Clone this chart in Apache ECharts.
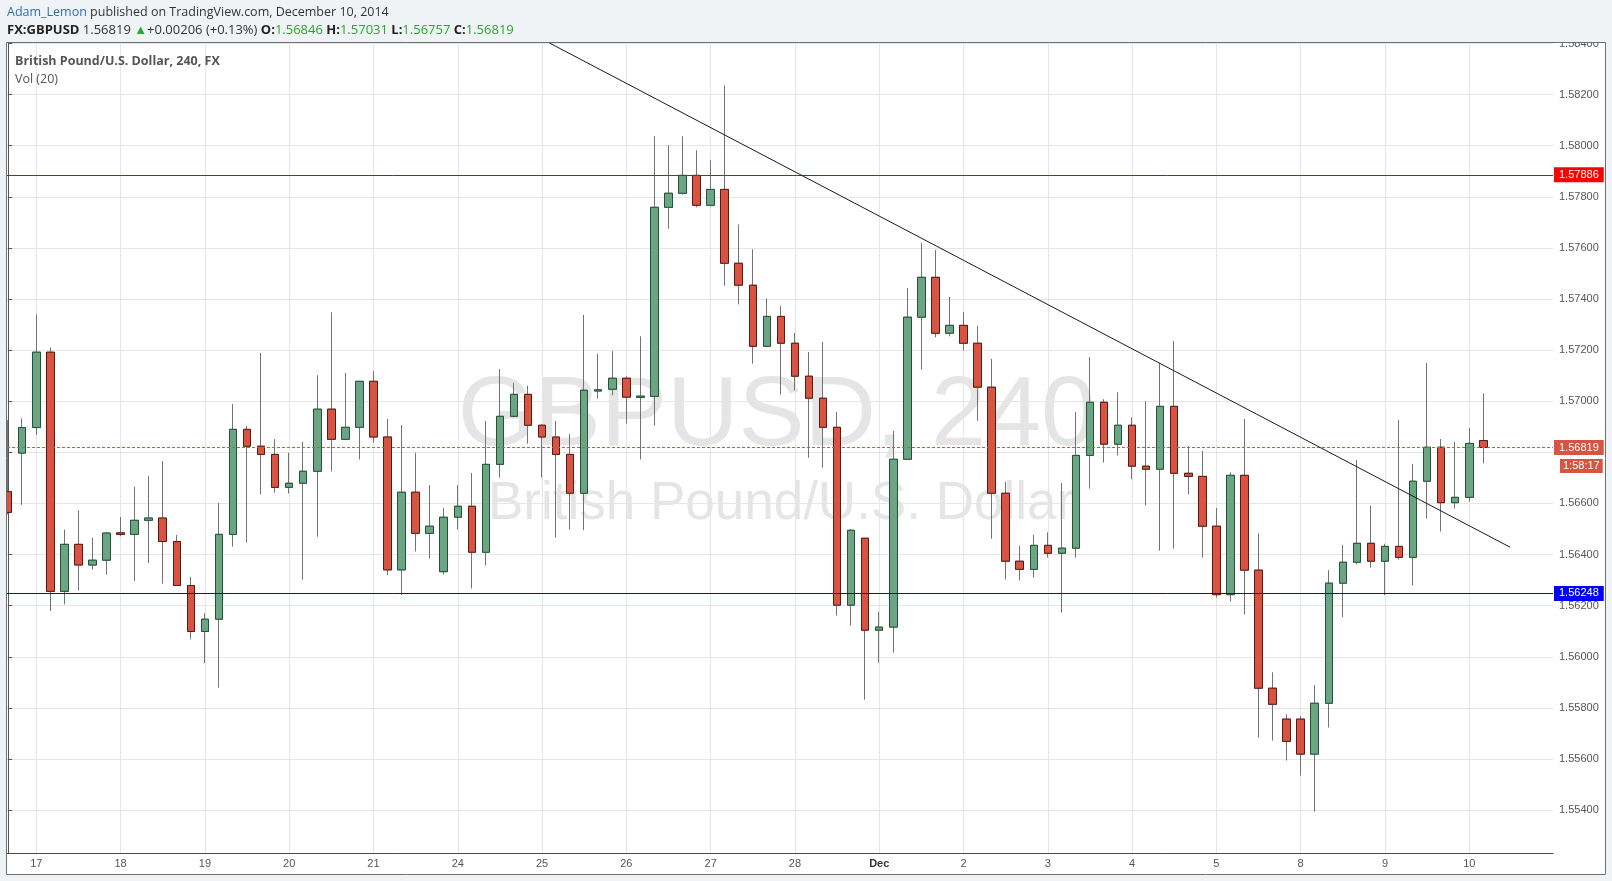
<!DOCTYPE html>
<html><head><meta charset="utf-8">
<script src="https://cdn.jsdelivr.net/npm/echarts@6/dist/echarts.min.js"></script>
<style>html,body{margin:0;padding:0;background:#f0f3f6;} #c{width:1612px;height:881px;}</style>
</head><body><div id="c"></div>
<script>
// ---- data (4h candles, GBPUSD) ----
const dayLabels = ['14','17','18','19','20','21','24','25','26','27','28','Dec','2','3','4','5','8','9','10'];
const candlesPerDay = [2,6,6,6,6,6,6,6,6,6,6,6,6,6,6,6,6,6,2];
const open = [1.56646,1.56797,1.56897,1.57192,1.56256,1.56440,1.56359,1.56378,1.56485,1.56479,
1.56534,1.56543,1.56451,1.56279,1.56099,1.56147,1.56479,1.56890,1.56824,1.56792,
1.56663,1.56679,1.56726,1.56969,1.56851,1.56898,1.57078,1.56860,1.56340,1.56644,
1.56483,1.56333,1.56546,1.56589,1.56409,1.56753,1.56941,1.57027,1.56906,1.56860,
1.56792,1.56640,1.57040,1.57047,1.57090,1.57015,1.57019,1.57759,1.57814,1.57884,
1.57767,1.57829,1.57540,1.57454,1.57215,1.57332,1.57227,1.57098,1.57012,1.56898,
1.56202,1.56464,1.56104,1.56116,1.56773,1.57329,1.57485,1.57266,1.57297,1.57227,
1.57055,1.56640,1.56374,1.56342,1.56436,1.56405,1.56425,1.56788,1.56996,1.56832,
1.56906,1.56746,1.56734,1.56980,1.56718,1.56706,1.56511,1.56243,1.56710,1.56339,
1.55877,1.55756,1.55756,1.55619,1.55818,1.56288,1.56370,1.56444,1.56374,1.56432,
1.56389,1.56687,1.56820,1.56603,1.56624,1.56846];
const close = [1.56565,1.56897,1.57192,1.56256,1.56440,1.56359,1.56378,1.56484,1.56479,1.56534,
1.56543,1.56451,1.56279,1.56099,1.56147,1.56479,1.56890,1.56824,1.56792,1.56663,
1.56679,1.56726,1.56969,1.56851,1.56898,1.57078,1.56860,1.56340,1.56644,1.56483,
1.56511,1.56546,1.56589,1.56409,1.56753,1.56941,1.57027,1.56906,1.56860,1.56792,
1.56640,1.57043,1.57045,1.57090,1.57016,1.57020,1.57759,1.57814,1.57884,1.57767,
1.57829,1.57540,1.57454,1.57215,1.57332,1.57227,1.57098,1.57012,1.56898,1.56202,
1.56495,1.56104,1.56116,1.56773,1.57329,1.57485,1.57266,1.57297,1.57227,1.57055,
1.56640,1.56374,1.56342,1.56436,1.56405,1.56425,1.56788,1.56996,1.56832,1.56906,
1.56746,1.56734,1.56980,1.56718,1.56706,1.56511,1.56243,1.56710,1.56339,1.55877,
1.55814,1.55669,1.55619,1.55818,1.56288,1.56370,1.56444,1.56374,1.56432,1.56389,
1.56687,1.56820,1.56603,1.56624,1.56835,1.56819];
const low = [1.56557,1.56594,1.56868,1.56179,1.56205,1.56260,1.56341,1.56321,1.56472,1.56297,
1.56367,1.56286,1.56279,1.56068,1.55975,1.55879,1.56431,1.56447,1.56635,1.56642,
1.56639,1.56302,1.56470,1.56725,1.56851,1.56772,1.56838,1.56320,1.56242,1.56412,
1.56384,1.56322,1.56498,1.56267,1.56357,1.56701,1.56937,1.56834,1.56701,1.56466,
1.56498,1.56495,1.57010,1.57023,1.56912,1.56772,1.56905,1.57675,1.57809,1.57759,
1.57763,1.57452,1.57379,1.57147,1.57211,1.57026,1.57042,1.56779,1.56740,1.56161,
1.56122,1.55832,1.55977,1.56016,1.56773,1.57124,1.57250,1.57254,1.57198,1.56924,
1.56462,1.56303,1.56298,1.56310,1.56388,1.56173,1.56388,1.56658,1.56760,1.56788,
1.56695,1.56593,1.56415,1.56423,1.56635,1.56388,1.56232,1.56216,1.56165,1.55684,
1.55672,1.55594,1.55535,1.55394,1.55723,1.56155,1.56362,1.56349,1.56241,1.56380,
1.56279,1.56541,1.56490,1.56580,1.56607,1.56757];
const high = [1.56926,1.56933,1.57340,1.57210,1.56498,1.56573,1.56466,1.56488,1.56547,1.56665,
1.56707,1.56766,1.56477,1.56313,1.56170,1.56602,1.56989,1.56903,1.57189,1.56852,
1.56798,1.56841,1.57102,1.57348,1.57111,1.57078,1.57118,1.56931,1.56907,1.56798,
1.56672,1.56582,1.56672,1.56719,1.56923,1.57126,1.57072,1.57060,1.56910,1.56923,
1.56872,1.57338,1.57185,1.57197,1.57098,1.57254,1.58037,1.58002,1.58037,1.57982,
1.57943,1.58236,1.57692,1.57595,1.57403,1.57373,1.57267,1.57193,1.57232,1.56958,
1.56499,1.56464,1.56176,1.56884,1.57443,1.57619,1.57592,1.57408,1.57349,1.57295,
1.57166,1.56684,1.56434,1.56477,1.56487,1.56680,1.56958,1.57173,1.57008,1.57035,
1.56937,1.57000,1.57150,1.57236,1.56825,1.56806,1.56582,1.56722,1.56931,1.56483,
1.55939,1.55775,1.55767,1.55889,1.56339,1.56438,1.56770,1.56590,1.56442,1.56927,
1.56755,1.57150,1.56852,1.56841,1.56895,1.57031];
const yTickValues = [1.554,1.556,1.558,1.560,1.562,1.564,1.566,1.568,1.570,1.572,1.574,1.576,1.578,1.580,1.582,1.584];
const resistanceLevel = 1.57886;
const supportLevel = 1.56248;
const lastPrice = 1.56819;
const countdownText = '1:58:17';
const countdownLevel = 1.56747;
const trendStart = [38.53, 1.58402];
const trendEnd = [106.90, 1.56429];
const changeText = '+0.00206 (+0.13%)';

// ---- derived ----
const candleDay = [], tickIdx = [];
dayLabels.forEach((d, k) => {
  for (let j = 0; j < candlesPerDay[k]; j++) {
    if (j === 0 && k > 0) tickIdx.push(candleDay.length);
    candleDay.push(d);
  }
});
const wickData = open.map((o, i) => [i, o, close[i], low[i], high[i]]);
const bodyData = open.map((o, i) => [i, o, close[i], Math.min(o, close[i]), Math.max(o, close[i])]);
const last = open.length - 1;

const AX = 'Arial, "Liberation Sans", sans-serif';
const HF = '"Open Sans", sans-serif';
const bg = '#f0f3f6';

const chart = echarts.init(document.getElementById('c'));
chart.setOption({
  animation: false,
  backgroundColor: '#ffffff',
  grid: { left: 7, right: 59, top: 43, bottom: 28, show: false },
  xAxis: {
    type: 'value', min: -0.085, max: 109.96,
    axisLine: { show: true, onZero: false, lineStyle: { color: '#4a4a4a', width: 1 } },
    axisTick: { show: false, customValues: tickIdx },
    axisLabel: {
      customValues: tickIdx, color: '#555', fontSize: 11, fontFamily: AX, margin: 5,
      formatter: v => { const d = candleDay[Math.round(v)]; return d === 'Dec' ? '{b|Dec}' : d; },
      rich: { b: { fontWeight: 'bold', color: '#333', fontSize: 11, fontFamily: AX } }
    },
    splitLine: { show: true, lineStyle: { color: '#e6e6e6', width: 1 } }
  },
  yAxis: {
    type: 'value', position: 'right', min: 1.55232, max: 1.58402, scale: true,
    axisLine: { show: true, lineStyle: { color: '#555' } },
    axisTick: { show: true, length: 4, customValues: yTickValues, lineStyle: { color: '#555' } },
    axisLabel: { customValues: yTickValues, color: '#555', fontSize: 11, fontFamily: AX, margin: 6,
      formatter: v => v.toFixed(5) },
    splitLine: { show: true, lineStyle: { color: '#e6e6e6', width: 1 } }
  },
  series: [
    {
      type: 'candlestick', name: 'wicks', data: wickData, encode: { x: 0, y: [1, 2, 3, 4] },
      barWidth: 8, z: 2,
      itemStyle: { color: '#737375', color0: '#737375', borderColor: '#737375', borderColor0: '#737375', borderWidth: 1 }
    },
    {
      type: 'candlestick', name: 'bodies', data: bodyData, encode: { x: 0, y: [1, 2, 3, 4] },
      barWidth: 8, z: 3,
      itemStyle: { color: '#6ba583', color0: '#d75442', borderColor: '#225437', borderColor0: '#5b1a13', borderWidth: 1 }
    },
    {
      type: 'line', name: 'levels', data: [], clip: false, z: 5,
      markLine: {
        silent: true, symbol: 'none', animation: false, precision: 5,
        label: { position: 'end', distance: 1, color: '#fff', fontSize: 11, fontFamily: AX, padding: [2, 5, 2, 5] },
        data: [
          { yAxis: resistanceLevel, lineStyle: { color: '#e00000', type: 'solid', width: 1 },
            label: { formatter: resistanceLevel.toFixed(5), backgroundColor: '#ff0000' } },
          { yAxis: supportLevel, lineStyle: { color: '#0000ff', type: 'solid', width: 1 },
            label: { formatter: supportLevel.toFixed(5), backgroundColor: '#0000ff' } },
          { yAxis: lastPrice, lineStyle: { color: '#d75442', type: [3, 2], width: 1 },
            label: { formatter: lastPrice.toFixed(5), backgroundColor: '#d75442' } },
          { yAxis: countdownLevel, lineStyle: { color: 'rgba(0,0,0,0)', width: 1, type: 'solid' },
            label: { show: true, formatter: countdownText, color: '#fff', backgroundColor: '#d75442', distance: 7, padding: [2, 3, 1, 3] } },
          [ { coord: trendStart, lineStyle: { color: '#1a1a1a', type: 'solid', width: 1 }, label: { show: false } },
            { coord: trendEnd } ]
        ]
      }
    }
  ],
  graphic: { elements: [
    { type: 'text', x: 777, y: 418, z: 1, silent: true,
      style: { text: 'GBPUSD, 240', fill: '#e5e5e5', fontSize: 99, fontFamily: AX, align: 'center', verticalAlign: 'middle' } },
    { type: 'text', x: 781, y: 504, z: 1, silent: true,
      style: { text: 'British Pound/U.S. Dollar', fill: '#e5e5e5', fontSize: 53, fontFamily: AX, align: 'center', verticalAlign: 'middle' } },
    { type: 'text', x: 15, y: 61, z: 6, silent: true,
      style: { text: 'British Pound/U.S. Dollar, 240, FX', fill: '#555', fontSize: 12.5, fontWeight: 'bold', fontFamily: HF, verticalAlign: 'middle' } },
    { type: 'text', x: 15, y: 79, z: 6, silent: true,
      style: { text: 'Vol (20)', fill: '#555', fontSize: 12.5, fontFamily: HF, verticalAlign: 'middle' } },
    // page background around panel
    { type: 'rect', z: 99, silent: true, shape: { x: 0, y: 0, width: 1612, height: 42 }, style: { fill: bg } },
    { type: 'rect', z: 99, silent: true, shape: { x: 0, y: 42, width: 6, height: 839 }, style: { fill: bg } },
    { type: 'rect', z: 99, silent: true, shape: { x: 1606, y: 42, width: 6, height: 839 }, style: { fill: bg } },
    { type: 'rect', z: 99, silent: true, shape: { x: 0, y: 875, width: 1612, height: 6 }, style: { fill: bg } },
    { type: 'rect', z: 100, silent: true, shape: { x: 6.5, y: 42.5, width: 1599, height: 832 }, style: { fill: null, stroke: '#6f6f6f', lineWidth: 1 } },
    // header
    { type: 'text', x: 7, y: 12.5, z: 101, silent: true,
      style: { text: '{u|Adam_Lemon} published on TradingView.com, December 10, 2014', fill: '#333', font: '12.5px "Open Sans", sans-serif', verticalAlign: 'middle',
        rich: { u: { fill: '#2a72b5', font: '12.5px "Open Sans", sans-serif' } } } },
    { type: 'text', x: 7, y: 30, z: 101, silent: true,
      style: { text: '{b|FX:GBPUSD} ' + close[last].toFixed(5) + ' {g|▲}' + changeText +
          ' {b|O:}{v|' + open[last].toFixed(5) + '} {b|H:}{v|' + high[last].toFixed(5) + '} {b|L:}{v|' + low[last].toFixed(5) + '} {b|C:}{v|' + close[last].toFixed(5) + '}',
        fill: '#333', fontSize: 13, fontFamily: HF, verticalAlign: 'middle',
        rich: { b: { fontWeight: 'bold', fill: '#222', fontSize: 13, fontFamily: HF },
                v: { fill: '#2ea52e', fontSize: 13, fontFamily: HF },
                g: { fill: '#2ea52e', fontSize: 13, fontFamily: HF } } } }
  ] }
});
</script></body></html>
